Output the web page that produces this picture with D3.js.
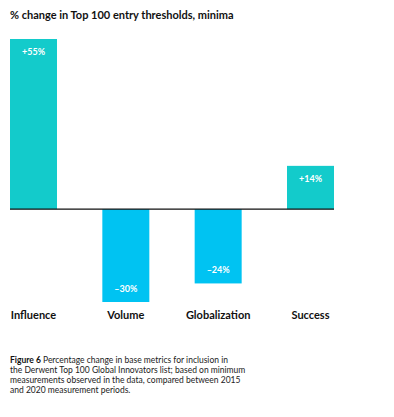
<!DOCTYPE html>
<html>
<head>
<meta charset="utf-8">
<script src="https://cdn.jsdelivr.net/npm/d3@7"></script>
<style>
  body { margin: 0; background: #fff; }
  text { font-family: Lato, "Open Sans", sans-serif; }
</style>
</head>
<body>
<script>
(function() {
    var w = 394,
        h = 417;
    // chart data
    var categories = ['Influence', 'Volume', 'Globalization', 'Success'];
    var values = [55, -30, -24, 14];
    var valueLabels = ['+55%', '\u201330%', '\u201324%', '+14%'];
    var captionLines = [
        ' Percentage change in base metrics for inclusion in',
        'the Derwent Top 100 Global Innovators list; based on minimum',
        'measurements observed in the data, compared between 2015',
        'and 2020 measurement periods.'
    ];

    var svg = d3.select('body')
        .append('svg')
        .attr('width', w)
        .attr('height', h);

    var xScale = d3.scaleBand()
        .domain(categories)
        .range([10, 334])
        .paddingInner(0.491)
        .paddingOuter(0);
    var yScale = d3.scaleLinear()
        .domain([-30, 55])
        .range([302, 39]);

    svg.append('text')
        .attr('x', 10)
        .attr('y', 19)
        .attr('font-size', 11)
        .attr('font-weight', 'bold')
        .attr('fill', '#111')
        .text('% change in Top 100 entry thresholds, minima');

    var data = categories.map(function(c, i) {
        return {cat: c, v: values[i], label: valueLabels[i]};
    });

    svg.selectAll('rect.bar')
        .data(data)
        .enter()
        .append('rect')
        .attr('class', 'bar')
        .attr('x', function(d) { return xScale(d.cat); })
        .attr('y', function(d) { return yScale(Math.max(0, d.v)); })
        .attr('width', xScale.bandwidth())
        .attr('height', function(d) { return Math.abs(yScale(d.v) - yScale(0)); })
        .attr('fill', function(d) { return d.v >= 0 ? '#13CBCB' : '#00C3F2'; });

    svg.selectAll('text.val')
        .data(data)
        .enter()
        .append('text')
        .attr('class', 'val')
        .attr('x', function(d) { return xScale(d.cat) + xScale.bandwidth() / 2; })
        .attr('y', function(d) { return d.v >= 0 ? yScale(d.v) + 16 : yScale(d.v) - 10; })
        .attr('text-anchor', 'middle')
        .attr('font-size', 9)
        .attr('font-weight', 'bold')
        .attr('fill', '#fff')
        .text(function(d) { return d.label; });

    // zero line
    svg.append('line')
        .attr('x1', xScale.range()[0])
        .attr('x2', xScale.range()[1])
        .attr('y1', yScale(0))
        .attr('y2', yScale(0))
        .attr('stroke', '#111')
        .attr('stroke-width', 1.3);

    svg.selectAll('text.cat')
        .data(data)
        .enter()
        .append('text')
        .attr('class', 'cat')
        .attr('x', function(d) { return xScale(d.cat) + xScale.bandwidth() / 2; })
        .attr('y', 319)
        .attr('text-anchor', 'middle')
        .attr('font-size', 11)
        .attr('font-weight', 'bold')
        .attr('fill', '#111')
        .text(function(d) { return d.cat; });

    var cap = svg.append('text')
        .attr('x', 10)
        .attr('y', 363)
        .attr('font-size', 8.5)
        .attr('fill', '#222');
    captionLines.forEach(function(line, i) {
        var t = cap.append('tspan')
            .attr('x', 10)
            .attr('dy', i === 0 ? 0 : 10);
        if (i === 0) {
            t.append('tspan').attr('font-weight', 'bold').attr('fill', '#111').text('Figure 6');
        }
        t.append('tspan').text(line);
    });
})();
</script>
</body>
</html>
